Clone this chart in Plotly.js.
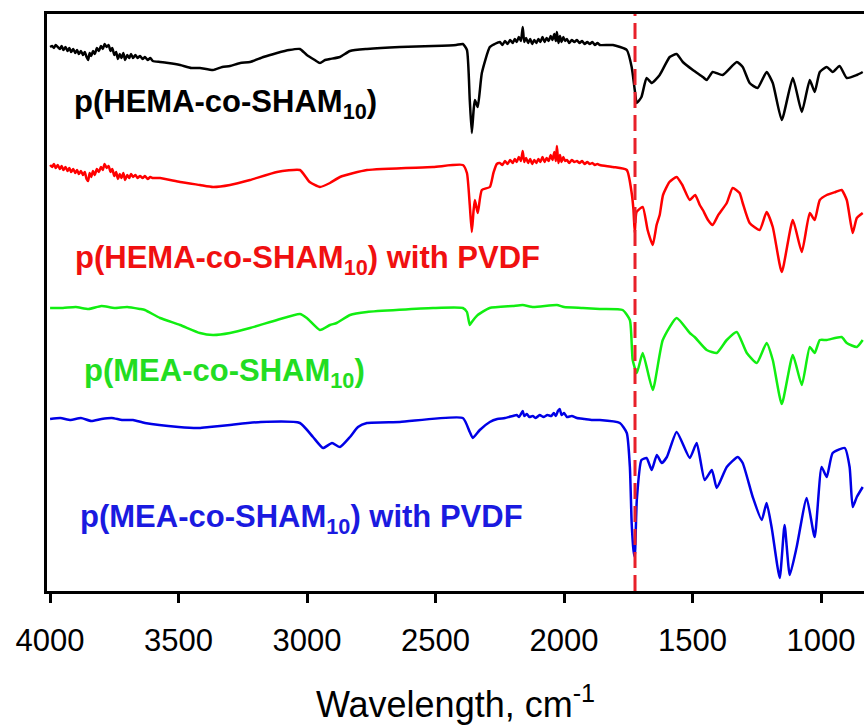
<!DOCTYPE html>
<html>
<head>
<meta charset="utf-8">
<script src="https://cdn.plot.ly/plotly-3.0.1.min.js"></script>
<style>html,body{margin:0;padding:0;background:#fff;}#chart{width:864px;height:725px;}</style>
</head>
<body>
<div id="chart"></div>
<script>
// ---- data (wavenumber, cm-1 ; offset transmittance, a.u.) ----
const xTicks = [4000, 3500, 3000, 2500, 2000, 1500, 1000];
const carbonylPeak = 1724;

const seriesNames = [
  "p(HEMA-co-SHAM<sub>10</sub>)",
  "p(HEMA-co-SHAM<sub>10</sub>) with PVDF",
  "p(MEA-co-SHAM<sub>10</sub>)",
  "p(MEA-co-SHAM<sub>10</sub>) with PVDF"
];

const blackWn = [4000,3992,3985,3978,3970,3962,3955,3948,3940,3932,3925,3918,3910,3902,3895,3888,3880,3872,3865,3858,3852,3846,3840,3833,3826,3818,3810,3802,3795,3788,3780,3772,3765,3758,3750,3743,3736,3729,3722,3715,3708,3700,3692,3685,3677,3668,3660,3650,3640,3631,3620,3610,3600,3572,3540,3494,3450,3417,3366,3330,3300,3260,3222,3170,3117,3070,3028,3001,2970,2950,2930,2911,2872,2833,2767,2639,2510,2420,2394,2378,2367,2359,2352,2347,2336,2320,2289,2270,2250,2240,2230,2220,2210,2200,2192,2184,2176,2168,2161,2155,2148,2140,2132,2124,2116,2108,2100,2092,2084,2076,2068,2060,2052,2045,2038,2032,2028,2022,2016,2010,2003,1996,1989,1980,1970,1960,1950,1940,1930,1920,1910,1900,1890,1880,1870,1861,1810,1756,1737,1725,1717,1699,1679,1659,1628,1589,1562,1538,1499,1460,1445,1422,1383,1328,1305,1278,1247,1212,1188,1153,1110,1075,1044,1025,1005,978,955,928,900,861,838];
const blackT  = [544,545,543,546,544,542,545,541,544,540,543,539,542,538,541,537,540,536,539,534,531,538,535,540,537,543,540,545,542,547,544,546,540,543,536,539,532,537,533,538,531,536,533,537,533,536,533,535,532,534,531,533,530,529,528,526,523,523,521,524,525,528,529,534,538,541,542,536,531,528,531,532,534,540,542,544,545,546,547,541,491,458,481,491,484,518,544,547,549,546,550,547,551,548,552,549,554,550,564,549,553,548,552,547,551,548,552,549,554,549,553,550,555,551,557,550,559,548,555,549,554,550,552,548,551,549,551,548,550,547,549,547,549,546,548,546,546,541,524,501,488,494,513,508,516,534,537,529,521,514,511,519,516,529,524,508,503,519,508,471,513,479,511,499,519,524,519,525,513,516,519];

const redWn = [4000,3992,3985,3978,3970,3962,3955,3948,3940,3932,3925,3918,3910,3902,3895,3888,3880,3872,3865,3858,3852,3846,3840,3833,3826,3818,3810,3802,3795,3788,3780,3772,3765,3758,3750,3743,3736,3729,3722,3715,3708,3700,3692,3685,3677,3668,3660,3650,3640,3631,3620,3610,3600,3572,3494,3417,3366,3300,3222,3117,3028,2990,2950,2911,2872,2767,2510,2394,2378,2367,2359,2352,2347,2336,2320,2289,2275,2262,2250,2240,2230,2220,2210,2200,2192,2184,2176,2168,2161,2155,2148,2140,2132,2124,2116,2108,2100,2092,2084,2076,2068,2060,2052,2045,2038,2032,2028,2022,2016,2010,2003,1996,1989,1980,1970,1960,1950,1940,1930,1920,1910,1900,1890,1880,1870,1861,1810,1756,1737,1730,1725,1718,1694,1675,1655,1640,1628,1615,1590,1562,1540,1511,1490,1472,1460,1440,1422,1400,1367,1344,1317,1305,1278,1239,1212,1188,1153,1110,1075,1044,1025,1005,978,944,920,900,877,861,838];
const redT  = [426,424,427,423,426,422,425,421,424,420,423,419,422,418,421,417,420,416,419,412,410,418,414,420,416,422,419,424,421,427,423,425,419,422,415,419,412,417,413,418,411,416,413,417,414,416,413,415,413,415,412,414,413,413,409,406,404,406,411,419,421,409,404,408,414,421,424,426,418,386,359,381,391,378,401,404,418,427,428,426,430,427,431,428,432,429,434,430,440,429,433,428,432,427,431,428,432,429,434,429,433,430,436,431,439,430,445,428,436,429,434,430,431,428,431,429,430,428,430,427,429,427,428,426,427,426,424,421,398,381,358,379,384,361,346,366,376,396,409,414,406,391,396,386,381,371,366,376,388,403,398,388,368,361,379,364,319,371,339,378,371,391,396,399,401,391,358,373,378];

const greenWn = [4000,3950,3900,3850,3800,3750,3700,3650,3631,3572,3494,3417,3366,3300,3222,3117,3028,3001,2950,2911,2885,2833,2767,2510,2394,2378,2367,2359,2347,2336,2290,2200,2161,2120,2028,2000,1927,1861,1772,1744,1733,1717,1694,1655,1616,1562,1511,1492,1445,1406,1367,1328,1289,1250,1212,1188,1153,1110,1075,1044,1025,1005,978,920,900,861,838];
const greenT  = [283,283,284,282,285,283,284,282,281,273,266,258,256,258,263,271,277,273,261,266,268,276,279,283,283,279,266,269,273,276,283,285,286,284,286,284,283,282,281,271,231,218,238,201,251,273,258,254,241,238,251,259,238,228,248,231,187,236,206,244,238,251,251,254,248,244,251];

const blueWn = [4000,3960,3920,3880,3840,3800,3760,3720,3677,3631,3500,3420,3380,3300,3180,3028,2977,2938,2903,2872,2833,2802,2767,2639,2394,2367,2355,2328,2289,2260,2230,2200,2184,2175,2168,2161,2155,2145,2135,2122,2110,2095,2080,2065,2050,2040,2032,2024,2017,2010,2000,1989,1970,1950,1920,1890,1861,1783,1756,1744,1737,1730,1725,1717,1699,1679,1659,1639,1620,1600,1562,1511,1484,1453,1425,1406,1367,1324,1305,1266,1231,1212,1192,1161,1142,1122,1095,1056,1025,998,978,955,908,889,877,861,838];
const blueT  = [172,173,171,173,170,172,173,171,171,168,164,163,164,166,169,168,154,143,148,144,154,164,168,169,173,159,153,161,169,172,173,175,176,174,177,180,175,177,174,175,173,176,174,176,175,178,175,180,182,176,178,174,175,173,172,171,171,168,158,124,68,41,34,91,131,133,121,136,128,134,159,133,148,111,121,103,124,134,128,94,71,88,63,13,66,16,44,93,54,124,114,138,143,124,84,94,104];

// ---- chart ----
const colors = ["#000000", "#ff0000", "#11ee11", "#0000e6"];
const labelColors = ["#000000", "#f01010", "#22dd22", "#1a1ae0"];
const xs = [blackWn, redWn, greenWn, blueWn];
const ys = [blackT, redT, greenT, blueT];

const traces = xs.map((x, i) => ({
  x: x, y: ys[i], type: "scatter", mode: "lines",
  line: {color: colors[i], width: 2.5, shape: "spline", smoothing: 0.5},
  name: seriesNames[i], showlegend: false, hoverinfo: "skip"
}));

const labelX = [3914, 3911, 3876, 3891];
const labelY = [487, 331, 218, 72];
const annotations = seriesNames.map((t, i) => ({
  x: labelX[i], y: labelY[i], xref: "x", yref: "y",
  text: "<b>" + t + "</b>", showarrow: false,
  xanchor: "left", yanchor: "middle",
  font: {family: "Liberation Sans, Arial, sans-serif", size: 31, color: labelColors[i]}
}));

const layout = {
  width: 864, height: 725,
  margin: {l: 47, r: 0, t: 14, b: 134},
  paper_bgcolor: "#ffffff", plot_bgcolor: "#ffffff",
  showlegend: false,
  xaxis: {
    range: [4012, 833],
    tickvals: xTicks, ticktext: xTicks.map(String),
    ticks: "outside", ticklen: 9, tickwidth: 3, tickcolor: "#000",
    showline: true, linewidth: 3, linecolor: "#000", mirror: true,
    showgrid: false, zeroline: false,
    ticklabelstandoff: 11,
    tickfont: {family: "Liberation Sans, Arial, sans-serif", size: 31, color: "#000"},
    title: {text: "Wavelength, cm<sup>-1</sup>", standoff: 37,
            font: {family: "Liberation Sans, Arial, sans-serif", size: 36, color: "#000"}}
  },
  yaxis: {
    range: [0, 577],
    showline: true, linewidth: 3, linecolor: "#000",
    showticklabels: false, ticks: "", showgrid: false, zeroline: false
  },
  shapes: [{
    type: "line", xref: "x", yref: "paper",
    x0: carbonylPeak, x1: carbonylPeak, y0: 0, y1: 1,
    line: {color: "#e8202a", width: 3, dash: "16px,7px"}
  }],
  annotations: annotations
};

Plotly.newPlot("chart", traces, layout, {staticPlot: true, displayModeBar: false});
</script>
</body>
</html>
